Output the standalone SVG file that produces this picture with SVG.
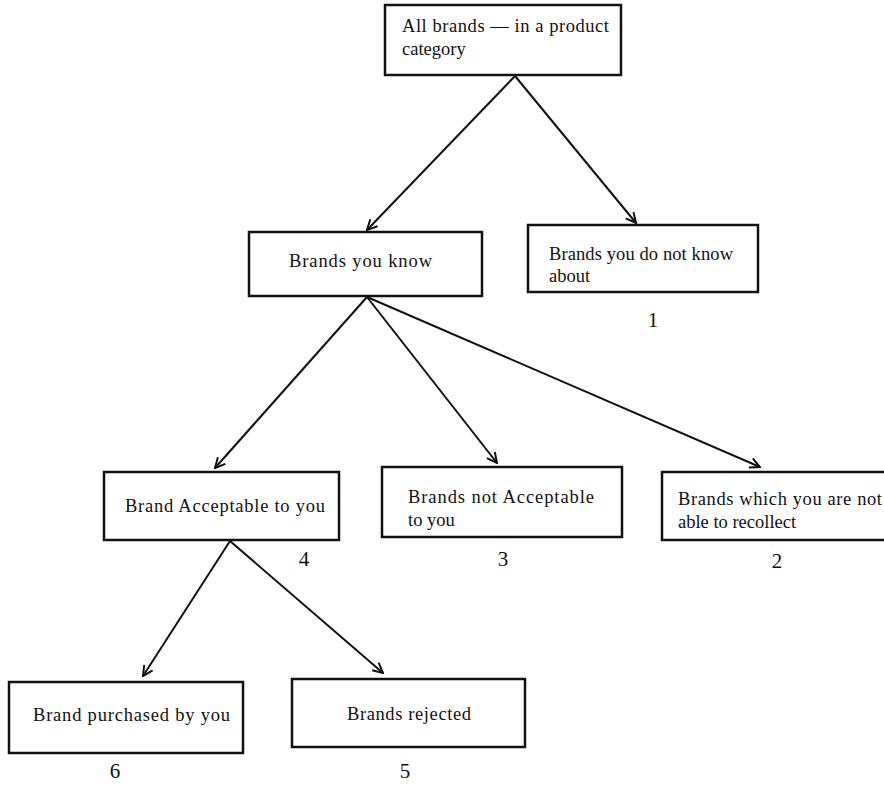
<svg xmlns="http://www.w3.org/2000/svg" width="884" height="785" viewBox="0 0 884 785">
<style>
.box{fill:#fff;stroke:#111;stroke-width:2.5}
.t{font-family:"Liberation Serif","Times New Roman",serif;font-size:18.5px;fill:#111}
.n{font-family:"Liberation Serif","Times New Roman",serif;font-size:21px;fill:#111}
.c{stroke:#111;stroke-width:2;fill:none}
</style>
<defs>
<marker id="ah" viewBox="0 0 12 12" refX="11" refY="6" markerWidth="12" markerHeight="12" markerUnits="userSpaceOnUse" orient="auto">
<path d="M1,1 L11,6 L1,11" fill="none" stroke="#111" stroke-width="2"/>
</marker>
</defs>
<rect width="884" height="785" fill="#fff"/>
<g id="connectors">
<line class="c" x1="515" y1="76" x2="367" y2="230" marker-end="url(#ah)"/>
<line class="c" x1="515" y1="76" x2="636" y2="223" marker-end="url(#ah)"/>
<line class="c" x1="367" y1="297" x2="215" y2="468" marker-end="url(#ah)"/>
<line class="c" x1="367" y1="297" x2="497" y2="463" marker-end="url(#ah)"/>
<line class="c" x1="367" y1="297" x2="760" y2="467" marker-end="url(#ah)"/>
<line class="c" x1="230" y1="541" x2="143" y2="676" marker-end="url(#ah)"/>
<line class="c" x1="230" y1="541" x2="383" y2="673" marker-end="url(#ah)"/>
</g>
<g id="all-brands">
<rect class="box" x="385" y="5" width="236" height="70"/>
<text class="t" x="402" y="32" textLength="207" lengthAdjust="spacing">All brands — in a product</text>
<text class="t" x="402" y="55">category</text>
</g>
<g id="brands-know">
<rect class="box" x="249" y="232" width="233" height="64"/>
<text class="t" x="289" y="267" textLength="143" lengthAdjust="spacing">Brands you know</text>
</g>
<g id="brands-not-know">
<rect class="box" x="528" y="225" width="230" height="67"/>
<text class="t" x="549" y="260" textLength="184" lengthAdjust="spacing">Brands you do not know</text>
<text class="t" x="549" y="282">about</text>
<text class="n" x="653" y="327" text-anchor="middle">1</text>
</g>
<g id="brand-acceptable">
<rect class="box" x="104" y="472" width="235" height="68"/>
<text class="t" x="125" y="512" textLength="200" lengthAdjust="spacing">Brand Acceptable to you</text>
<text class="n" x="304" y="566" text-anchor="middle">4</text>
</g>
<g id="brands-not-acceptable">
<rect class="box" x="382" y="467" width="240" height="70"/>
<text class="t" x="408" y="503" textLength="186" lengthAdjust="spacing">Brands not Acceptable</text>
<text class="t" x="408" y="526">to you</text>
<text class="n" x="503" y="566" text-anchor="middle">3</text>
</g>
<g id="brands-not-recollect">
<rect class="box" x="662" y="472" width="230" height="68"/>
<text class="t" x="678" y="505" textLength="204" lengthAdjust="spacing">Brands which you are not</text>
<text class="t" x="678" y="528">able to recollect</text>
<text class="n" x="777" y="568" text-anchor="middle">2</text>
</g>
<g id="brand-purchased">
<rect class="box" x="9" y="682" width="234" height="71"/>
<text class="t" x="33" y="721" textLength="197" lengthAdjust="spacing">Brand purchased by you</text>
<text class="n" x="115" y="778" text-anchor="middle">6</text>
</g>
<g id="brands-rejected">
<rect class="box" x="292" y="679" width="233" height="68"/>
<text class="t" x="347" y="720" textLength="124" lengthAdjust="spacing">Brands rejected</text>
<text class="n" x="405" y="778" text-anchor="middle">5</text>
</g>
</svg>
